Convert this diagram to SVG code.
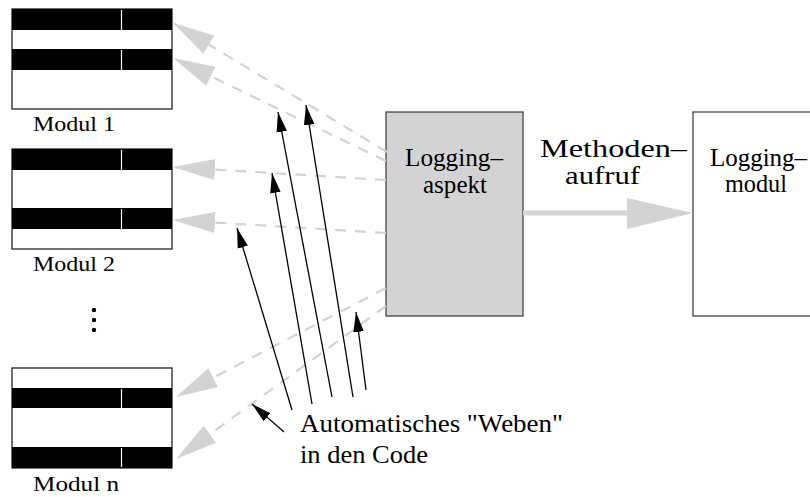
<svg xmlns="http://www.w3.org/2000/svg" width="810" height="497" viewBox="0 0 810 497">
<style>
  text { font-family: "Liberation Serif", "Times New Roman", serif; fill: #000; }
  .mod { fill: #fff; stroke: #222; stroke-width: 1.3; }
  .band { fill: #000; }
  .tick { stroke: #fff; stroke-width: 1.2; }
  .dash { stroke: #d3d3d3; stroke-width: 2.2; fill: none; stroke-dasharray: 11 9; marker-end: url(#grayHead); }
  .weave { stroke: #000; stroke-width: 1.3; fill: none; marker-end: url(#blackHead); }
  .box { stroke: #444; stroke-width: 1.3; }
</style>
<defs>
  <marker id="grayHead" markerUnits="userSpaceOnUse" markerWidth="42" markerHeight="22" viewBox="0 0 40 20" refX="40" refY="10" orient="auto">
    <path d="M0,0 L40,10 L0,20 Z" fill="#d3d3d3"/>
  </marker>
  <marker id="blackHead" markerUnits="userSpaceOnUse" markerWidth="20" markerHeight="12" viewBox="0 0 19 10" refX="19" refY="5" orient="auto">
    <path d="M0,0 L19,5 L0,10 Z" fill="#000"/>
  </marker>
</defs>

<g id="modul1">
  <rect class="mod" x="12" y="9" width="160" height="100"/>
  <rect class="band" x="12" y="9" width="160" height="21"/>
  <rect class="band" x="12" y="49" width="160" height="21"/>
  <line class="tick" x1="121.5" y1="10" x2="121.5" y2="30"/>
  <line class="tick" x1="121.5" y1="50" x2="121.5" y2="70"/>
  <text x="33" y="131" font-size="21" textLength="82" lengthAdjust="spacingAndGlyphs">Modul 1</text>
</g>

<g id="modul2">
  <rect class="mod" x="12" y="149" width="160" height="100"/>
  <rect class="band" x="12" y="149" width="160" height="21"/>
  <rect class="band" x="12" y="208" width="160" height="21"/>
  <line class="tick" x1="121.5" y1="150" x2="121.5" y2="170"/>
  <line class="tick" x1="121.5" y1="209" x2="121.5" y2="229"/>
  <text x="33" y="271" font-size="21" textLength="82" lengthAdjust="spacingAndGlyphs">Modul 2</text>
</g>

<g id="dots">
  <circle cx="94" cy="310" r="2.2" fill="#000"/>
  <circle cx="94" cy="320" r="2.2" fill="#000"/>
  <circle cx="94" cy="330" r="2.2" fill="#000"/>
</g>

<g id="moduln">
  <rect class="mod" x="12" y="368" width="160" height="100"/>
  <rect class="band" x="12" y="388" width="160" height="20"/>
  <rect class="band" x="12" y="447" width="160" height="21"/>
  <line class="tick" x1="121.5" y1="389" x2="121.5" y2="408"/>
  <line class="tick" x1="121.5" y1="448" x2="121.5" y2="467"/>
  <text x="33" y="491" font-size="20" textLength="86" lengthAdjust="spacingAndGlyphs">Modul n</text>
</g>

<g id="loggingaspekt">
  <rect class="box" x="386" y="112" width="137" height="204" fill="#d3d3d3"/>
  <text x="405" y="166" font-size="25" textLength="98" lengthAdjust="spacingAndGlyphs">Logging–</text>
  <text x="423" y="193" font-size="25" textLength="64" lengthAdjust="spacingAndGlyphs">aspekt</text>
</g>

<g id="loggingmodul">
  <rect class="box" x="693" y="112" width="140" height="204" fill="#fff"/>
  <text x="710" y="166" font-size="25" textLength="97" lengthAdjust="spacingAndGlyphs">Logging–</text>
  <text x="725" y="192" font-size="25" textLength="62" lengthAdjust="spacingAndGlyphs">modul</text>
</g>

<g id="methodenaufruf-label">
  <text x="540" y="157" font-size="26" textLength="147" lengthAdjust="spacingAndGlyphs">Methoden–</text>
  <text x="565" y="184" font-size="26" textLength="75" lengthAdjust="spacingAndGlyphs">aufruf</text>
</g>

<g id="weben-label">
  <text x="300" y="432" font-size="25" textLength="263" lengthAdjust="spacingAndGlyphs">Automatisches "Weben"</text>
  <text x="300" y="463" font-size="25" textLength="128" lengthAdjust="spacingAndGlyphs">in den Code</text>
</g>

<g id="connectors">
  <line class="dash" x1="387" y1="152" x2="173" y2="23"/>
  <line class="dash" x1="386" y1="161" x2="173" y2="58"/>
  <line class="dash" x1="386" y1="180" x2="173" y2="167"/>
  <line class="dash" x1="386" y1="233" x2="173" y2="220"/>
  <line class="dash" x1="386" y1="288" x2="176" y2="397"/>
  <line class="dash" x1="386" y1="306" x2="176" y2="459"/>

  <line x1="523" y1="213" x2="630" y2="213" stroke="#d3d3d3" stroke-width="5"/>
  <polygon points="627,198 693,213 627,229" fill="#d3d3d3"/>

  <line class="weave" x1="292" y1="410" x2="237" y2="228"/>
  <line class="weave" x1="312" y1="404" x2="272" y2="173"/>
  <line class="weave" x1="332" y1="397" x2="278" y2="112"/>
  <line class="weave" x1="353" y1="397" x2="306" y2="105"/>
  <line class="weave" x1="366" y1="390" x2="356" y2="312"/>
  <line class="weave" x1="284" y1="432" x2="252" y2="404"/>
</g>
</svg>
